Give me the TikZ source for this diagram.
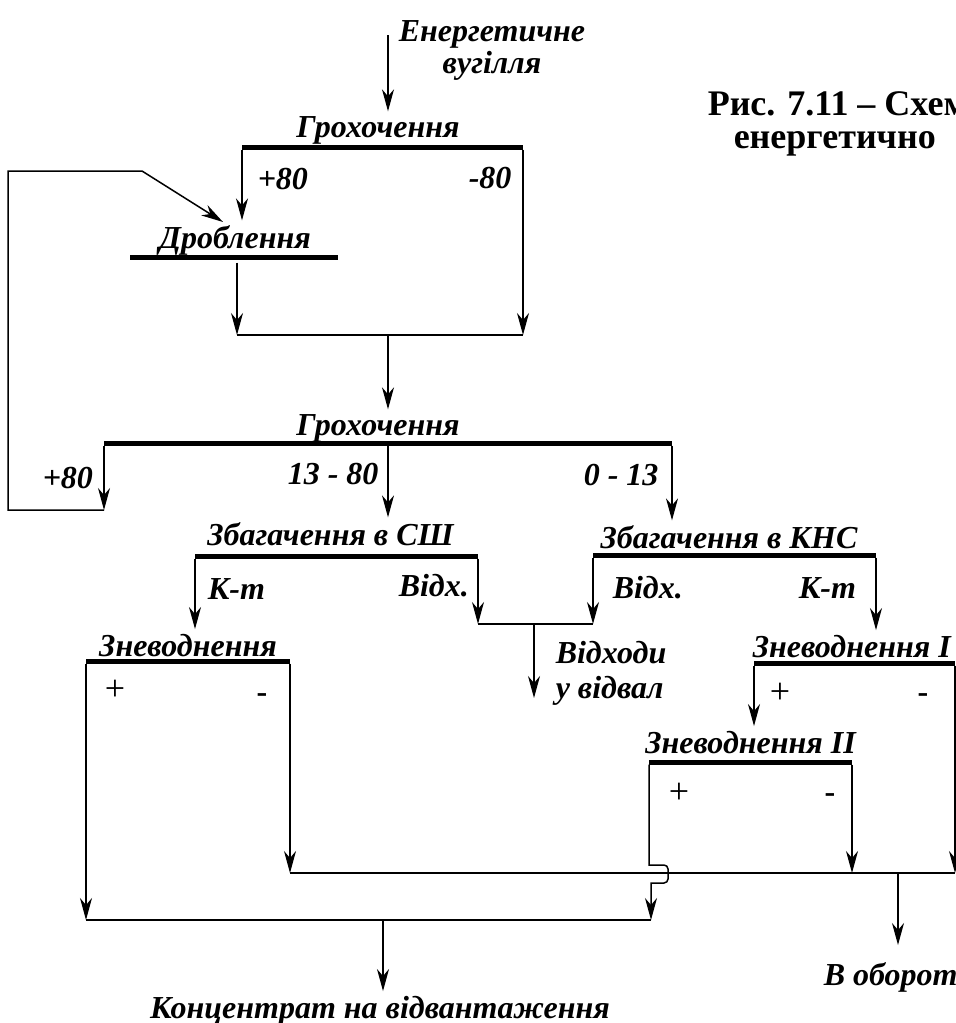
\documentclass[tikz,border=0pt]{standalone}
\usepackage{fontspec}
\setmainfont{Liberation Serif}
\usetikzlibrary{arrows.meta,positioning}

\begin{document}
\begin{tikzpicture}[
        x=1pt, y=-1pt,
        line width=1.5pt,
        flow/.style={-{Stealth[length=22pt,width=12pt,inset=7pt]}},
        bar/.style={fill, draw=none, inner sep=0pt, outer sep=0pt, minimum height=5pt, anchor=west},
        lbl/.style={font=\fontsize{32}{32}\selectfont\bfseries\itshape, inner sep=4pt},
        sgn/.style={font=\fontsize{36}{36}\selectfont, inner sep=0pt},
        msgn/.style={font=\fontsize{32}{32}\selectfont\bfseries, inner sep=0pt},
        titletext/.style={font=\fontsize{36}{33}\selectfont\bfseries, inner sep=0pt, align=left}
    ]
    \useasboundingbox (0,0) rectangle (956,1023);
    \clip (0,0) rectangle (956,1023);

    % bars of the operations
    \node[bar, minimum width=281pt] (g1bar) at (242,147) {};
    \node[bar, minimum width=208pt] (drbar) at (130,257) {};
    \node[bar, minimum width=568pt] (g2bar) at (104,443) {};
    \node[bar, minimum width=283pt] (sshbar) at (195,556) {};
    \node[bar, minimum width=283pt] (knsbar) at (593,555) {};
    \node[bar, minimum width=204pt] (zbar) at (86,661) {};
    \node[bar, minimum width=201pt] (z1bar) at (754,663) {};
    \node[bar, minimum width=203pt] (z2bar) at (649,762) {};

    % names of the operations
    \node[lbl, above=7.5pt of g1bar, anchor=base, xshift=-4.5pt] (g1) {Грохочення};
    \node[lbl, above=6.5pt of drbar, anchor=base, xshift=1pt] (dr) {Дроблення};
    \node[lbl, above=5.5pt of g2bar, anchor=base, xshift=-10pt] (g2) {Грохочення};
    \node[lbl, above=8.5pt of sshbar, anchor=base, xshift=-6pt] (ssh) {Збагачення в СШ};
    \node[lbl, above=4.5pt of knsbar, anchor=base, xshift=-5.5pt] (kns) {Збагачення в КНС};
    \node[lbl, above=2.5pt of zbar, anchor=base] (z) {Зневоднення};
    \node[lbl, above=3.5pt of z1bar.north west, anchor=base west, xshift=-6pt] (z1) {Зневоднення I};
    \node[lbl, above=6.5pt of z2bar, anchor=base] (z2) {Зневоднення II};

    % products
    \node[lbl, anchor=base west] (p80a) at (253,189) {+80};
    \node[lbl, anchor=base west] (m80) at (464,188) {-80};
    \node[lbl, anchor=base west] (p80b) at (38,488) {+80};
    \node[lbl, anchor=base west] (f1380) at (283,484) {13 - 80};
    \node[lbl, anchor=base west] (f013) at (579,485) {0 - 13};
    \node[lbl, anchor=base west] (kt1) at (203,599) {К-т};
    \node[lbl, anchor=base west] (vx1) at (394,596) {Відх.};
    \node[lbl, anchor=base west] (vx2) at (608,598) {Відх.};
    \node[lbl, anchor=base west] (kt2) at (794,598) {К-т};
    \node[sgn] (zp) at (115,690) {+};
    \node[msgn] (zm) at (262,698) {-};
    \node[sgn] (z1p) at (780,693) {+};
    \node[msgn] (z1m) at (923,698) {-};
    \node[sgn] (z2p) at (679,793) {+};
    \node[msgn] (z2m) at (830,798) {-};

    \node[lbl, align=center, anchor=north] (coal) at (492,16) {Енергетичне\\вугілля};
    \node[lbl, font=\fontsize{32}{35}\selectfont\bfseries\itshape, align=left, anchor=north west] (waste) at (551,637) {Відходи\\у відвал};
    \node[lbl, anchor=base west] (obor) at (819,985) {В оборот};
    \node[lbl, anchor=base] (conc) at (380,1018) {Концентрат на відвантаження};
    \node[titletext, anchor=north west] (title) at (707,91) {Рис. 7.11 – Схем\\\hspace*{26pt}енергетично};

    % junctions
    \coordinate (in) at (388,35);
    \coordinate (j1) at (388,335);
    \coordinate (r1) at (8,510);
    \coordinate (r2) at (8,171);
    \coordinate (r3) at (142,171);
    \coordinate (r4) at (223,222);
    \coordinate (j2) at (534,624);
    \coordinate (wout) at (534,698);
    \coordinate (j3) at (898,873);
    \coordinate (oout) at (898,945);
    \coordinate (j4) at (383,920);

    \draw[flow] (in) -- (in |- g1.north);
    \draw[flow] (g1bar.south west) -- (g1bar.south west |- dr.north);
    \draw[flow] (g1bar.south east) -- (g1bar.south east |- j1);
    \draw[flow] ([xshift=3pt]drbar.south) ++(0,3) -- ([xshift=3pt]drbar.south |- j1);
    \draw ([xshift=3pt]drbar.south |- j1) -- (g1bar.south east |- j1);
    \draw[flow] (j1) -- (j1 |- g2.north);

    % +80 back to crushing
    \draw[flow] (g2bar.south west) -- (g2bar.south west |- r1);
    \draw[flow] (g2bar.south west |- r1) -- (r1) -- (r2) -- (r3) -- (r4);

    \draw[flow] (j1 |- g2bar.south) -- (j1 |- ssh.north);
    \draw[flow] (g2bar.south east) -- (g2bar.south east |- kns.north);

    \draw[flow] (sshbar.south west) -- (sshbar.south west |- z.north);
    \draw[flow] (sshbar.south east) -- (sshbar.south east |- j2);
    \draw[flow] (knsbar.south west) -- (knsbar.south west |- j2);
    \draw (sshbar.south east |- j2) -- (knsbar.south west |- j2);
    \draw[flow] (j2) -- (wout);
    \draw[flow] (knsbar.south east) -- (knsbar.south east |- z1.north);

    \draw[flow] (z1bar.south west) -- (z1bar.south west |- z2.north);
    \draw[flow] (z1bar.south east) -- (z1bar.south east |- j3);
    \draw[flow] (zbar.south east) -- (zbar.south east |- j3);
    \draw[flow] (z2bar.south east) -- (z2bar.south east |- j3);
    \draw (zbar.south east |- j3) -- (z1bar.south east |- j3);
    \draw[flow] (j3) -- (oout);

    \draw[flow] (zbar.south west) -- (zbar.south west |- j4);
    \draw[flow] (z2bar.south west) -- ++(0,100.5) [rounded corners=4pt] -- ++(19,0) -- ++(0,18) [sharp corners] -- ++(-17,0) coordinate (z2q) -- (z2q |- j4);
    \draw (zbar.south west |- j4) -- (z2q |- j4);
    \draw[flow] (j4) -- (j4 |- conc.north);
\end{tikzpicture}
\end{document}
